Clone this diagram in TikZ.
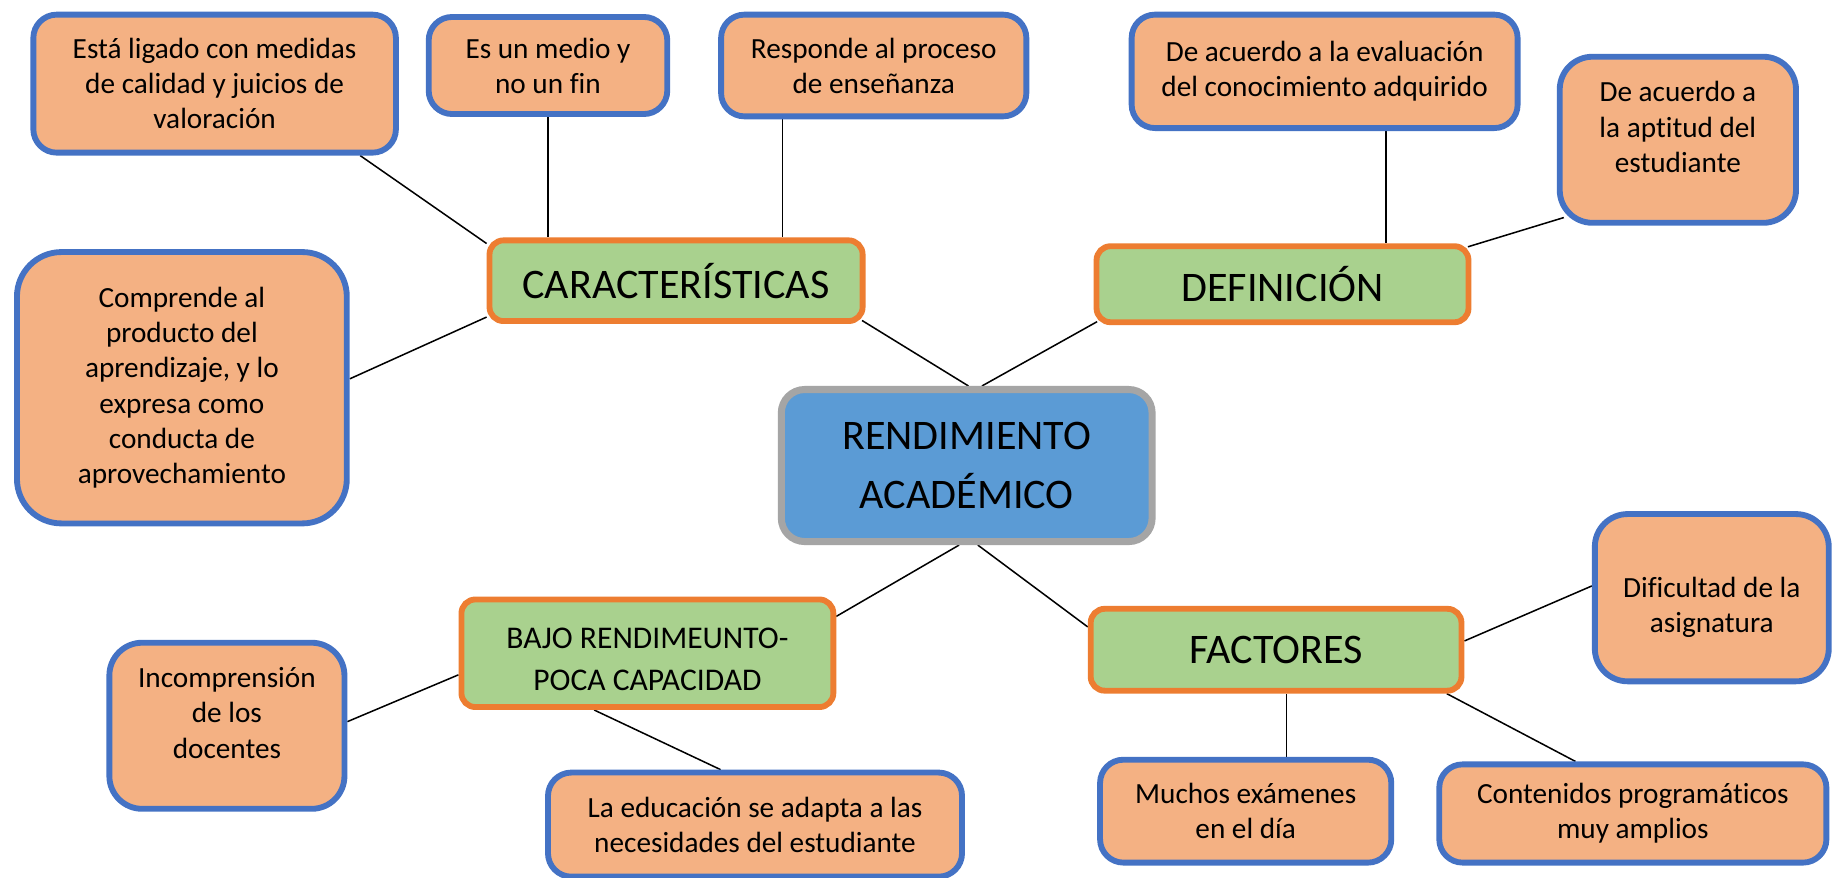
\documentclass[tikz,border=0pt]{standalone}
\usepackage{fontspec}
\setmainfont{Carlito}[Ligatures={NoCommon}]
\usetikzlibrary{calc,backgrounds}
\definecolor{peach}{HTML}{F4B183}
\definecolor{bborder}{HTML}{4472C4}
\definecolor{lgreen}{HTML}{A9D18E}
\definecolor{oborder}{HTML}{ED7D31}
\definecolor{cblue}{HTML}{5B9BD5}
\definecolor{cgray}{HTML}{A5A5A5}
\begin{document}
\begin{tikzpicture}[x=1pt,y=-1pt,
 peachbox/.style={draw=bborder, fill=peach, line width=5pt, rounded corners=20pt, align=center, inner sep=0pt, font=\fontsize{25}{30}\selectfont},
 greenbox/.style={draw=oborder, fill=lgreen, line width=5pt, rounded corners=12pt, align=center, inner sep=0pt, font=\fontsize{36}{44}\selectfont},
 centerbox/.style={draw=cgray, fill=cblue, line width=6pt, rounded corners=20pt, align=center, inner sep=0pt, font=\fontsize{36}{50}\selectfont},
 link/.style={line width=1.3pt, black}]
\useasboundingbox (0,0) rectangle (1568,750);

% peach boxes
\node[peachbox, minimum width=310pt, minimum height=118pt] (p1) at (183.5,71.5) {Está ligado con medidas\\de calidad y juicios de\\valoración};
\node[peachbox, minimum width=204pt, minimum height=83pt] (p2) at (468.5,56) {Es un medio y\\no un fin};
\node[peachbox, minimum width=261pt, minimum height=87pt] (p3) at (747,56) {Responde al proceso\\de enseñanza};
\node[peachbox, minimum width=330pt, minimum height=97pt] (p4) at (1132.5,61) {De acuerdo a la evaluación\\del conocimiento adquirido};
\node[peachbox, rounded corners=28pt, minimum width=202pt, minimum height=142pt] (p5) at (1434.5,119.5) {De acuerdo a\\la aptitud del\\estudiante\rule[-22pt]{0pt}{0pt}};
\node[peachbox, rounded corners=38pt, minimum width=282pt, minimum height=232pt] (p6) at (155.5,331.5) {Comprende al\\producto del\\aprendizaje, y lo\\expresa como\\conducta de\\aprovechamiento};
\node[peachbox, rounded corners=28pt, minimum width=201pt, minimum height=142pt] (p7) at (194,620.5) {Incomprensión\\de los\\docentes\rule[-22pt]{0pt}{0pt}};
\node[peachbox, minimum width=354pt, minimum height=89pt] (p8) at (645.5,705) {La educación se adapta a las\\necesidades del estudiante};
\node[peachbox, minimum width=249pt, minimum height=88pt] (p9) at (1065,693.5) {Muchos exámenes\\en el día};
\node[peachbox, minimum width=331pt, minimum height=84pt] (p10) at (1396,695.5) {Contenidos programáticos\\muy amplios};
\node[peachbox, rounded corners=28pt, minimum width=200pt, minimum height=143pt] (p11) at (1463.5,511) {\rule{0pt}{34pt}Dificultad de la\\asignatura};

% green boxes
\node[greenbox, minimum width=319pt, minimum height=69pt] (g1) at (578,240) {CARACTERÍSTICAS};
\node[greenbox, minimum width=318pt, minimum height=65pt] (g2) at (1096.5,243) {DEFINICIÓN};
\node[greenbox, minimum width=318pt, minimum height=92pt, font=\fontsize{27}{36}\selectfont] (g3) at (553.5,558.5) {\rule{0pt}{28pt}BAJO RENDIMEUNTO-\\POCA CAPACIDAD};
\node[greenbox, minimum width=317pt, minimum height=70pt] (g4) at (1091,555.5) {FACTORES};

% central
\node[centerbox, minimum width=317pt, minimum height=130pt] (c) at (826.5,398) {RENDIMIENTO\\ACADÉMICO};

\begin{scope}[on background layer]
\fill[white] (0,0) rectangle (1568,750);
\draw[link] ($(p1.south west)!0.895!(p1.south east)$) -- ($(g1.north west)!0.07!(g1.south west)$);
\draw[link] (p2.south) -- (p2.south |- g1.north);
\draw[link] ($(p3.south west)!0.207!(p3.south east)$) coordinate (a3) -- (a3 |- g1.north);
\draw[link] ($(p6.north east)!0.468!(p6.south east)$) -- ($(g1.north west)!0.92!(g1.south west)$);
\draw[link] ($(g1.south east)+(-3,-3)$) -- ($(c.north)+(1.5,0)$);
\draw[link] ($(g2.south west)+(3,-3)$) -- ($(c.north)+(13,0)$);
\draw[link] ($(p4.south west)!0.657!(p4.south east)$) coordinate (a7) -- (a7 |- g2.north);
\draw[link] ($(g2.north east)+(-3,3)$) -- ($(p5.south west)+(6,-7)$);
\draw[link] ($(c.south)+(-6.5,0)$) -- ($(g3.north east)!0.175!(g3.south east)$);
\draw[link] ($(c.south)+(9.5,0)$) -- ($(g4.north west)!0.24!(g4.south west)$);
\draw[link] ($(g3.north west)!0.69!(g3.south west)$) -- ($(p7.north east)!0.476!(p7.south east)$);
\draw[link] ($(g3.south west)!0.359!(g3.south east)$) -- ($(p8.north west)!0.418!(p8.north east)$);
\draw[link] ($(g4.south)+(9,0)$) coordinate (a13) -- (a13 |- p9.north);
\draw[link] ($(g4.south west)!0.953!(g4.south east)$) -- ($(p10.north west)!0.354!(p10.north east)$);
\draw[link] ($(g4.north east)!0.4!(g4.south east)$) -- ($(p11.north west)!0.432!(p11.south west)$);
\end{scope}
\end{tikzpicture}
\end{document}
